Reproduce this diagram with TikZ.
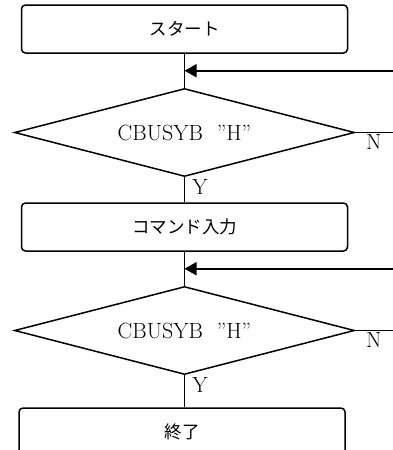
\documentclass[tikz,border=0pt]{standalone}
\usepackage{fontspec}
\newfontfamily\jpfont{Noto Sans CJK JP}
\usetikzlibrary{positioning, arrows.meta, shapes.geometric}

\begin{document}
\begin{tikzpicture}[x=1pt, y=-1pt, line width=1.5pt,
    font=\fontsize{22}{26}\selectfont,
    proc/.style={draw, rounded corners=4pt, minimum width=326pt, minimum height=48pt,
      font=\jpfont\fontsize{17.5}{20}\selectfont},
    cond/.style={draw, diamond, aspect=3.86, minimum width=340pt, minimum height=88pt, inner sep=0pt},
    yn/.style={inner sep=1pt, anchor=north west},
    back/.style={-{Triangle[length=12pt, width=13pt]}}]
  \useasboundingbox (0,0) rectangle (393,450);
  \clip (0,0) rectangle (393,450);
  \coordinate (edge) at (393,0);

  \node[proc] (start) at (184.5,29) {スタート};
  \node[cond, below=34pt of start] (d1) {CBUSYB\hspace{14pt}”H”};
  \node[proc, below=25pt of d1] (cmd) {コマンド入力};
  \node[cond, below=34pt of cmd] (d2) {CBUSYB\hspace{14pt}”H”};
  \node[proc, below=32pt of d2, xshift=-2.5pt] (stop) {終了};

  % loop back points
  \path (start.south) -- coordinate[midway] (j1) (d1.north);
  \path (cmd.south) -- coordinate[midway] (j2) (d2.north);

  \draw (start.south) -- (d1.north);
  \draw[back] (j1 -| edge) -- (j1);
  \draw (d1.east) -- (d1.east -| edge);
  \node[yn, xshift=9pt] (n1) at (d1.east) {N};
  \draw (d1.south) -- (cmd.north);
  \node[yn, xshift=6pt] (y1) at (d1.south) {Y};

  \draw (cmd.south) -- (d2.north);
  \draw[back] (j2 -| edge) -- (j2);
  \draw (d2.east) -- (d2.east -| edge);
  \node[yn, xshift=9pt] (n2) at (d2.east) {N};
  \draw (d2.south) -- (d2.south |- stop.north);
  \node[yn, xshift=6pt] (y2) at (d2.south) {Y};
\end{tikzpicture}
\end{document}
